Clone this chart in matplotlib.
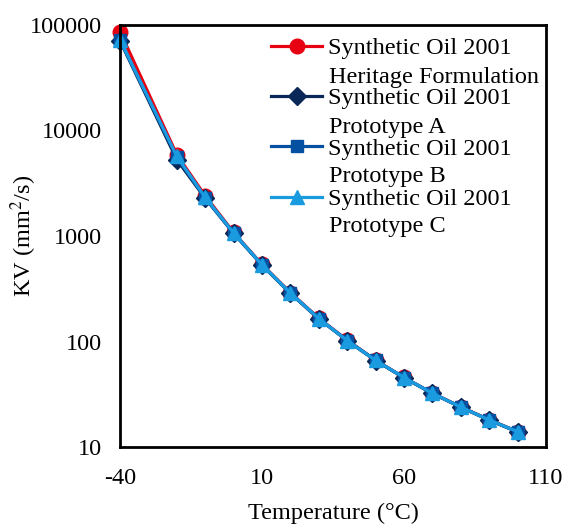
import matplotlib
matplotlib.use("Agg")
from matplotlib import pyplot as plt

temps = [-40, -20, -10, 0, 10, 20, 30, 40, 50, 60, 70, 80, 90, 100]
kv_heritage = [86500, 5900, 2400, 1080, 537, 290, 166, 103, 66.5, 45.6, 32.4, 24.0, 18.1, 14.0]
kv_proto_a = [71000, 5300, 2280, 1060, 530, 286, 164, 102, 66.0, 45.3, 32.2, 23.8, 18.0, 13.9]
kv_proto_b = [72000, 5600, 2300, 1065, 532, 287, 165, 102, 66.2, 45.4, 32.3, 23.9, 18.0, 13.9]
kv_proto_c = [72500, 5700, 2320, 1070, 533, 288, 165, 102, 66.3, 45.5, 32.3, 23.9, 18.0, 14.0]

names = ["Synthetic Oil 2001", "Synthetic Oil 2001", "Synthetic Oil 2001", "Synthetic Oil 2001"]
subnames = ["Heritage Formulation", "Prototype A", "Prototype B", "Prototype C"]

plt.rcParams['font.family'] = ['Liberation Serif', 'DejaVu Serif']
plt.rcParams['mathtext.fontset'] = 'stix'
plt.rcParams['axes.unicode_minus'] = False

fs = 17.5

fig = plt.figure(figsize=(5.65, 5.25), dpi=100)
ax = fig.add_axes([120 / 565, 1 - 447 / 525, 426 / 565, 422 / 525])

ax.plot(temps, kv_heritage, color='#E60012', marker='o', markersize=10.5, lw=2.3, label=names[0], clip_on=False)
ax.plot(temps, kv_proto_a, color='#0A2857', marker='D', markersize=9, lw=2.3, label=names[1], clip_on=False)
ax.plot(temps, kv_proto_b, color='#0550A0', marker='s', markersize=9, lw=2.3, label=names[2], clip_on=False)
ax.plot(temps, kv_proto_c, color='#1A9BE0', marker='^', markersize=9.5, lw=2.3, label=names[3], clip_on=False)

ax.set_yscale('log')
ax.set_ylim(10, 100000)
ax.set_xlim(-40, 110)
ax.set_xticks([-40, 10, 60, 110])
ax.set_yticks([10, 100, 1000, 10000, 100000])
ax.set_yticklabels(['10', '100', '1000', '10000', '100000'])
ax.minorticks_off()
ax.tick_params(axis='x', length=0, labelsize=fs, pad=15)
ax.tick_params(axis='y', length=0, labelsize=fs, pad=13)
for s in ax.spines.values():
    s.set_linewidth(2)

ax.set_xlabel('Temperature (°C)', fontsize=fs, labelpad=10)
ax.set_ylabel('KV (mm$^2$/s)', fontsize=fs)
ax.yaxis.set_label_coords(-0.19, 0.5)

leg = ax.legend(loc='upper left', bbox_to_anchor=(271 / 565, 1 - 37 / 525),
                bbox_transform=fig.transFigure, frameon=False, fontsize=fs,
                handlelength=2.1, handletextpad=0.25, labelspacing=1.17,
                borderaxespad=0, borderpad=0)

# second lines of the legend labels
for i, sub in enumerate(subnames):
    fig.text(329 / 565, 1 - (83 + 49.6 * i) / 525, sub, fontsize=fs, va='baseline', ha='left')

fig.savefig('out.png', dpi=100)
